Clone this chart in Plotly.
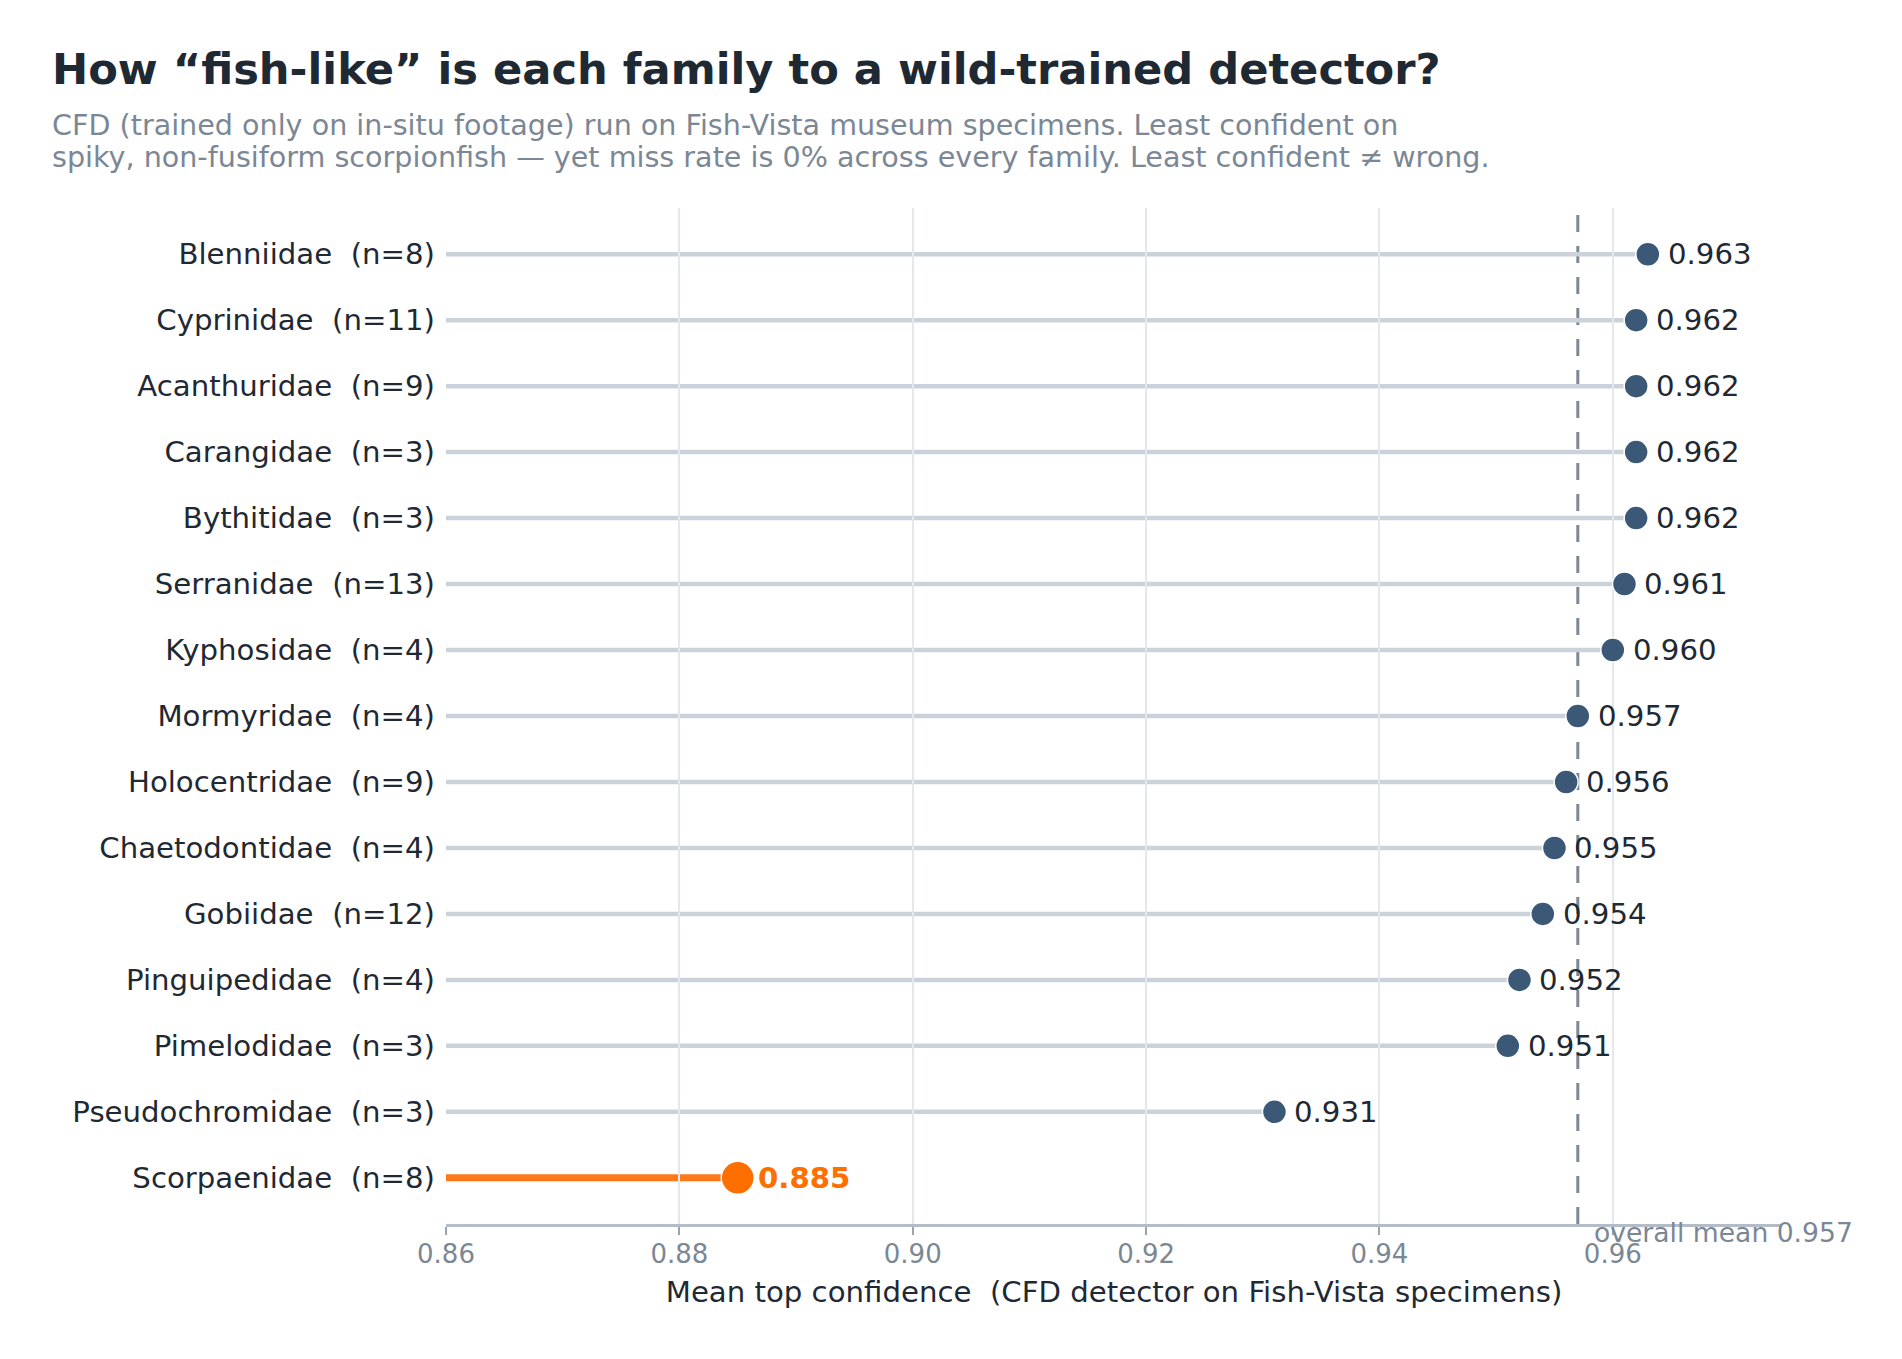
import plotly.graph_objects as go

# ---- data ----
families = ["Blenniidae", "Cyprinidae", "Acanthuridae", "Carangidae", "Bythitidae",
            "Serranidae", "Kyphosidae", "Mormyridae", "Holocentridae", "Chaetodontidae",
            "Gobiidae", "Pinguipedidae", "Pimelodidae", "Pseudochromidae", "Scorpaenidae"]
counts = [8, 11, 9, 3, 3, 13, 4, 4, 9, 4, 12, 4, 3, 3, 8]
confidence = [0.963, 0.962, 0.962, 0.962, 0.962, 0.961, 0.960, 0.957, 0.956, 0.955,
              0.954, 0.952, 0.951, 0.931, 0.885]
overall_mean = 0.957
highlight = "Scorpaenidae"
x_ticks = [0.86, 0.88, 0.90, 0.92, 0.94, 0.96]

labels = [f"{f}  (n={n})" for f, n in zip(families, counts)]

FONT = "DejaVu Sans"
DARK = "#1f2933"
GREY = "#7b8794"
STEM = "#cbd2d9"
DOT = "#3b5877"
ORANGE = "#ff6f00"
ORANGE_STEM = "#ff7a1a"
BASE = 29.2

W, H = 1902, 1359
ML, MR, MT, MB = 446, 120, 208, 135
plot_h = H - MT - MB

def py(px):
    return (H - MB - px) / plot_h

def px_x(px):
    return (px - ML) / (W - ML - MR)

fig = go.Figure()

reg_lab = [l for l, f in zip(labels, families) if f != highlight]
reg_val = [v for v, f in zip(confidence, families) if f != highlight]
hi_lab = [l for l, f in zip(labels, families) if f == highlight]
hi_val = [v for v, f in zip(confidence, families) if f == highlight]

shapes = []
for l, v, f in zip(labels, confidence, families):
    hi = f == highlight
    shapes.append(dict(type="line", xref="x", yref="y", x0=x_ticks[0], x1=v, y0=l, y1=l,
                       layer="below",
                       line=dict(color=ORANGE_STEM if hi else STEM, width=7 if hi else 4.5)))
shapes.append(dict(type="line", xref="x", yref="paper", x0=overall_mean, x1=overall_mean,
                   y0=0, y1=1, layer="between",
                   line=dict(color=GREY, width=3, dash="17px,14px")))

fig.add_trace(go.Scatter(
    x=reg_val, y=reg_lab, mode="markers",
    marker=dict(size=24, color=DOT, line=dict(color="white", width=1.5)),
    cliponaxis=False, hoverinfo="skip", showlegend=False))
fig.add_trace(go.Scatter(
    x=hi_val, y=hi_lab, mode="markers",
    marker=dict(size=33, color=ORANGE, line=dict(color="white", width=1.5)),
    cliponaxis=False, hoverinfo="skip", showlegend=False))

annotations = [
    dict(text="<b>How “fish-like” is each family to a wild-trained detector?</b>",
         xref="paper", yref="paper", x=px_x(50), y=py(42), xanchor="left", yanchor="top",
         showarrow=False, font=dict(family=FONT, size=43.2, color=DARK)),
    dict(text="CFD (trained only on in-situ footage) run on Fish-Vista museum specimens. Least confident on",
         xref="paper", yref="paper", x=px_x(50), y=py(106), xanchor="left", yanchor="top",
         align="left", showarrow=False, font=dict(family=FONT, size=28.6, color=GREY)),
    dict(text="spiky, non-fusiform scorpionfish — yet miss rate is 0% across every family. Least confident ≠ wrong.",
         xref="paper", yref="paper", x=px_x(50), y=py(137.5), xanchor="left", yanchor="top",
         align="left", showarrow=False, font=dict(family=FONT, size=28.6, color=GREY)),
    dict(text=f"overall mean {overall_mean:.3f}", xref="x", yref="paper", x=overall_mean, y=0,
         xanchor="left", yanchor="top", xshift=14, yshift=9, showarrow=False,
         font=dict(family=FONT, size=26.6, color=GREY)),
]
for l, v, f in zip(labels, confidence, families):
    hi = f == highlight
    annotations.append(dict(
        text=f"<b>{v:.3f}</b>" if hi else f"{v:.3f}",
        xref="x", yref="y", x=v, y=l, xanchor="left", yanchor="middle",
        xshift=18 if hi else 18, yshift=0, showarrow=False,
        font=dict(family=FONT, size=BASE, color=ORANGE if hi else DARK)))

fig.update_layout(
    width=W, height=H, margin=dict(l=ML, r=MR, t=MT, b=MB),
    paper_bgcolor="white", plot_bgcolor="white",
    font=dict(family=FONT, color=DARK),
    shapes=shapes, annotations=annotations,
    xaxis=dict(range=[0.86, 0.9745], tickvals=x_ticks, tickformat=".2f",
               showgrid=True, gridcolor="#e4e7eb", gridwidth=2,
               showline=True, linecolor="#b3bcc8", linewidth=2.6,
               ticks="outside", ticklen=8, tickwidth=2, tickcolor="#9aa5b1",
               ticklabelstandoff=-3,
               tickfont=dict(family=FONT, size=26, color=GREY), zeroline=False,
               title=dict(text="Mean top confidence  (CFD detector on Fish-Vista specimens)",
                          font=dict(family=FONT, size=BASE, color=DARK), standoff=14)),
    yaxis=dict(type="category", categoryorder="array", categoryarray=labels,
               range=[14.7, -0.7], showgrid=False, showline=False, zeroline=False,
               ticks="", ticklabelstandoff=10,
               tickfont=dict(family=FONT, size=BASE, color=DARK)),
)

fig.write_html("out.html")
